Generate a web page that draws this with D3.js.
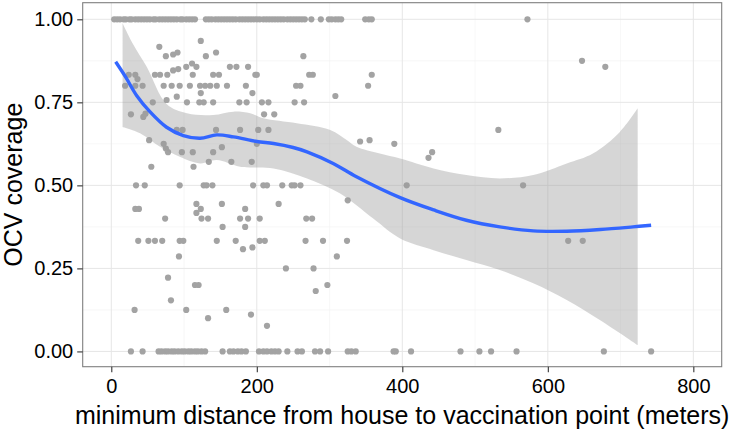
<!DOCTYPE html>
<html>
<head>
<meta charset="utf-8">
<script src="https://cdn.jsdelivr.net/npm/d3@7"></script>
<style>
  body { margin: 0; background: #fff; }
  svg text { font-family: "Liberation Sans", Arial, Helvetica, sans-serif; fill: #000; }
</style>
</head>
<body>
<div id="chart"></div>
<script>
// scatter points: distance (m) and coverage
var ptX = [4, 8, 12, 17, 20, 25, 28, 33, 37, 41, 45, 49, 53, 58, 61, 66, 70, 74, 78, 82, 86, 90, 95, 98, 103, 107, 111, 115,
  130, 134, 138, 143, 147, 151, 155, 159, 163, 167, 171, 176, 180, 184, 188, 192, 196, 200, 204, 209, 213, 217, 221, 225,
  229, 233, 237, 242, 246, 250, 254, 258, 262, 266, 275, 288, 299, 303, 308, 312, 316, 349, 354, 358, 572,
  27, 43, 65, 69, 74, 78, 83, 87, 92, 97, 101, 106, 110, 115, 119, 124, 129, 153, 163, 168, 174, 179, 185, 203, 209, 214,
  220, 225, 230, 242, 256, 262, 280, 287, 298, 325, 330, 336, 388, 391, 412, 480, 506, 522, 557, 677, 742,
  66, 123, 130, 144, 75, 85, 91, 264,
  103, 111, 117, 163, 172, 188, 647, 679,
  24, 33, 60, 67, 77, 85, 92, 112, 140, 148, 198, 200, 272, 277, 358, 36,
  19, 33, 43, 72, 83, 94, 108, 122, 129, 136, 145, 159, 185, 254, 260, 353, 123, 194, 90, 308,
  57, 76, 104, 121, 127, 140, 176, 186, 207, 216, 252, 265,
  27, 44, 47, 210, 224,
  90, 98, 144, 177, 202, 216, 532,
  52, 72, 75, 78, 200, 342, 355, 389, 152,
  97, 112, 140, 441, 436,
  134, 165, 193, 55, 113,
  34, 46, 94, 127, 131, 139, 195, 209, 214, 235, 248, 252, 260, 406, 566,
  117, 152, 230, 325, 123, 184, 33, 38, 117,
  74, 124, 133, 177, 188, 204, 268, 276,
  153, 184,
  37, 51, 60, 70, 94, 99, 145, 171, 204, 211, 267, 291, 324, 628, 648,
  181, 194, 93, 310,
  240, 278,
  78, 115, 120, 297, 281, 82, 32, 103, 158, 133, 192, 214];
var ptY = [1, 1, 1, 1, 1, 1, 1, 1, 1, 1, 1, 1, 1, 1, 1, 1, 1, 1, 1, 1, 1, 1, 1, 1, 1, 1, 1, 1,
  1, 1, 1, 1, 1, 1, 1, 1, 1, 1, 1, 1, 1, 1, 1, 1, 1, 1, 1, 1, 1, 1, 1, 1,
  1, 1, 1, 1, 1, 1, 1, 1, 1, 1, 1, 1, 1, 1, 1, 1, 1, 1, 1, 1, 1,
  0, 0, 0, 0, 0, 0, 0, 0, 0, 0, 0, 0, 0, 0, 0, 0, 0, 0, 0, 0, 0, 0, 0, 0, 0, 0,
  0, 0, 0, 0, 0, 0, 0, 0, 0, 0, 0, 0, 0, 0, 0, 0, 0, 0, 0, 0, 0,
  0.917, 0.935, 0.889, 0.9, 0.889, 0.894, 0.9, 0.889,
  0.857, 0.867, 0.857, 0.857, 0.857, 0.857, 0.875, 0.857,
  0.833, 0.833, 0.833, 0.833, 0.833, 0.846, 0.85, 0.833, 0.833, 0.833, 0.833, 0.833, 0.833, 0.833, 0.833, 0.82,
  0.8, 0.8, 0.8, 0.8, 0.8, 0.8, 0.8, 0.8, 0.8, 0.8, 0.8, 0.8, 0.8, 0.8, 0.8, 0.8, 0.778, 0.778, 0.767, 0.769,
  0.75, 0.757, 0.75, 0.75, 0.75, 0.75, 0.75, 0.75, 0.75, 0.75, 0.75, 0.75,
  0.714, 0.706, 0.716, 0.714, 0.714,
  0.667, 0.667, 0.667, 0.667, 0.667, 0.667, 0.667,
  0.636, 0.625, 0.611, 0.6, 0.625, 0.632, 0.636, 0.625, 0.615,
  0.6, 0.6, 0.6, 0.6, 0.583,
  0.571, 0.571, 0.571, 0.556, 0.556,
  0.5, 0.5, 0.5, 0.5, 0.5, 0.5, 0.5, 0.5, 0.5, 0.5, 0.5, 0.5, 0.5, 0.5, 0.5,
  0.444, 0.444, 0.444, 0.455, 0.429, 0.429, 0.429, 0.429, 0.417,
  0.4, 0.4, 0.4, 0.4, 0.4, 0.4, 0.4, 0.4,
  0.375, 0.375,
  0.333, 0.333, 0.333, 0.333, 0.333, 0.333, 0.333, 0.333, 0.333, 0.333, 0.333, 0.333, 0.333, 0.333, 0.333,
  0.308, 0.313, 0.286, 0.286,
  0.25, 0.25,
  0.222, 0.2, 0.2, 0.2, 0.182, 0.154, 0.125, 0.125, 0.125, 0.1, 0.111, 0.077];

// loess fit line
var fitX = [6, 20, 35, 53, 76, 99, 122, 145, 168, 200, 223, 250, 269, 305, 337, 397, 443, 488, 534, 580, 626, 672, 717, 742];
var fitY = [0.872, 0.825, 0.77, 0.722, 0.675, 0.65, 0.642, 0.652, 0.646, 0.632, 0.626, 0.614, 0.601, 0.566, 0.526,
  0.463, 0.426, 0.395, 0.375, 0.363, 0.362, 0.367, 0.375, 0.38];

// confidence band edges
var upX = [15.5, 30, 48.7, 76, 104, 140, 168, 191, 209, 255, 301, 324, 337, 369, 397, 443, 488, 534, 580, 626, 662, 699, 723.5];
var upY = [0.988, 0.925, 0.857, 0.745, 0.717, 0.712, 0.722, 0.717, 0.702, 0.687, 0.667, 0.636, 0.616, 0.596, 0.581,
  0.551, 0.531, 0.521, 0.531, 0.566, 0.596, 0.661, 0.732];
var loX = [15.5, 39.5, 67, 94, 122, 145, 177, 223, 269, 314, 360, 397, 443, 488, 534, 580, 626, 672, 723.5];
var loY = [0.676, 0.657, 0.616, 0.586, 0.566, 0.576, 0.556, 0.551, 0.521, 0.476, 0.40, 0.34, 0.305, 0.275, 0.245, 0.205,
  0.155, 0.094, 0.019];

var xTicks = [0, 200, 400, 600, 800];
var xMinor = [-100, 100, 300, 500, 700];
var yTicks = [0, 0.25, 0.5, 0.75, 1];
var yTickLabels = ["0.00", "0.25", "0.50", "0.75", "1.00"];
var yMinor = [0.125, 0.375, 0.625, 0.875];

function drawChart() {
  var width = 730, height = 430;
  var pLeft = 82.7, pRight = 721.7, pTop = 2.7, pBottom = 366.7;

  var svg = d3.select("#chart").append("svg")
    .attr("width", width)
    .attr("height", height);

  var x = d3.scaleLinear().domain([-39.3, 839]).range([pLeft, pRight]);
  var y = d3.scaleLinear().domain([-0.046, 1.05]).range([pBottom, pTop]);

  // grid
  var grid = svg.append("g");
  grid.selectAll(".xminor").data(xMinor.filter(function(d) { return x(d) > pLeft; }))
    .enter().append("line")
    .attr("x1", function(d) { return x(d); }).attr("x2", function(d) { return x(d); })
    .attr("y1", pTop).attr("y2", pBottom)
    .attr("stroke", "#f4f4f4").attr("stroke-width", 0.7);
  grid.selectAll(".yminor").data(yMinor)
    .enter().append("line")
    .attr("y1", function(d) { return y(d); }).attr("y2", function(d) { return y(d); })
    .attr("x1", pLeft).attr("x2", pRight)
    .attr("stroke", "#f4f4f4").attr("stroke-width", 0.7);
  grid.selectAll(".xmajor").data(xTicks)
    .enter().append("line")
    .attr("x1", function(d) { return x(d); }).attr("x2", function(d) { return x(d); })
    .attr("y1", pTop).attr("y2", pBottom)
    .attr("stroke", "#e6e6e6").attr("stroke-width", 1);
  grid.selectAll(".ymajor").data(yTicks)
    .enter().append("line")
    .attr("y1", function(d) { return y(d); }).attr("y2", function(d) { return y(d); })
    .attr("x1", pLeft).attr("x2", pRight)
    .attr("stroke", "#e6e6e6").attr("stroke-width", 1);

  // points
  svg.append("g").selectAll("circle")
    .data(ptX)
    .enter().append("circle")
    .attr("cx", function(d) { return x(d); })
    .attr("cy", function(d, i) { return y(ptY[i]); })
    .attr("r", 3.1)
    .attr("fill", "#a3a3a3");

  // ribbon: upper edge forward, lower edge back
  var edge = d3.line()
    .x(function(d) { return x(d[0]); })
    .y(function(d) { return y(d[1]); })
    .curve(d3.curveCatmullRom);
  var upPts = upX.map(function(d, i) { return [d, upY[i]]; });
  var loPts = loX.map(function(d, i) { return [d, loY[i]]; }).reverse();
  var ribbonPath = edge(upPts) + "L" + edge(loPts).slice(1) + "Z";
  svg.append("path")
    .attr("d", ribbonPath)
    .attr("fill", "#999999")
    .attr("fill-opacity", 0.4);

  // fit line
  svg.append("path")
    .datum(fitX.map(function(d, i) { return [d, fitY[i]]; }))
    .attr("d", edge)
    .attr("fill", "none")
    .attr("stroke", "#3366ff")
    .attr("stroke-width", 3.4);

  // panel border
  svg.append("rect")
    .attr("x", pLeft).attr("y", pTop)
    .attr("width", pRight - pLeft).attr("height", pBottom - pTop)
    .attr("fill", "none").attr("stroke", "#7f7f7f").attr("stroke-width", 1.1);

  // axes
  var xAxis = d3.axisBottom(x).tickValues(xTicks).tickSize(5.5).tickPadding(7).tickFormat(d3.format("d"));
  var yAxis = d3.axisLeft(y).tickValues(yTicks).tickSize(5.5).tickPadding(4)
    .tickFormat(function(d, i) { return yTickLabels[i]; });

  var gx = svg.append("g").attr("transform", "translate(0," + pBottom + ")").call(xAxis);
  var gy = svg.append("g").attr("transform", "translate(" + pLeft + ",0)").call(yAxis);
  [gx, gy].forEach(function(g) {
    g.select(".domain").remove();
    g.selectAll(".tick line").attr("stroke", "#333").attr("stroke-width", 1.1);
    g.selectAll(".tick text").style("font-size", "20px").attr("fill", "#000")
      .style("font-family", "'Liberation Sans', Arial, Helvetica, sans-serif");
  });

  svg.append("text")
    .attr("x", (pLeft + pRight) / 2)
    .attr("y", 423.5)
    .attr("text-anchor", "middle")
    .style("font-size", "25px")
    .text("minimum distance from house to vaccination point (meters)");

  svg.append("text")
    .attr("transform", "translate(22," + ((pTop + pBottom) / 2) + ") rotate(-90)")
    .attr("text-anchor", "middle")
    .style("font-size", "25px")
    .text("OCV coverage");
}

drawChart();
</script>
</body>
</html>
